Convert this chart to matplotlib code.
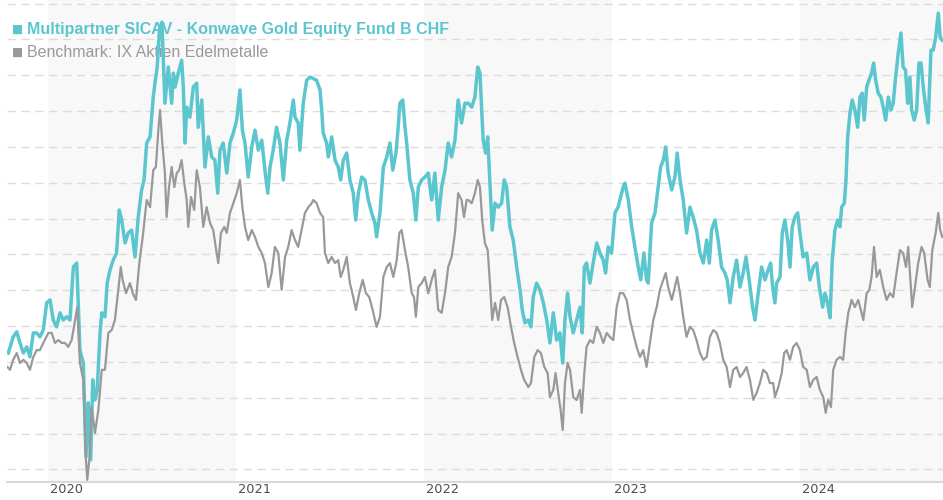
import matplotlib
matplotlib.use("Agg")
import matplotlib.pyplot as plt
import matplotlib.transforms as mtransforms
import numpy as np

# Performance in %, time in decimal years
fund_years = [
    2019.789, 2019.815, 2019.834, 2019.851, 2019.869, 2019.887, 2019.904, 2019.922, 2019.940, 2019.957,
    2019.975, 2019.993, 2020.011, 2020.028, 2020.046, 2020.064, 2020.081, 2020.099, 2020.117, 2020.135,
    2020.153, 2020.170, 2020.188, 2020.202, 2020.214, 2020.227, 2020.238, 2020.250, 2020.262, 2020.277,
    2020.286, 2020.303, 2020.315, 2020.330, 2020.347, 2020.365, 2020.379, 2020.392, 2020.410, 2020.427,
    2020.445, 2020.463, 2020.480, 2020.498, 2020.511, 2020.525, 2020.543, 2020.560, 2020.569, 2020.581,
    2020.593, 2020.606, 2020.622, 2020.640, 2020.658, 2020.667, 2020.676, 2020.693, 2020.711, 2020.720,
    2020.729, 2020.738, 2020.755, 2020.773, 2020.791, 2020.799, 2020.818, 2020.835, 2020.853, 2020.871,
    2020.888, 2020.903, 2020.915, 2020.932, 2020.951, 2020.968, 2020.986, 2021.004, 2021.021, 2021.034,
    2021.048, 2021.065, 2021.084, 2021.101, 2021.119, 2021.137, 2021.154, 2021.169, 2021.181, 2021.198,
    2021.216, 2021.234, 2021.252, 2021.270, 2021.287, 2021.305, 2021.314, 2021.331, 2021.340, 2021.358,
    2021.376, 2021.394, 2021.429, 2021.447, 2021.456, 2021.464, 2021.482, 2021.491, 2021.509, 2021.527,
    2021.544, 2021.557, 2021.571, 2021.589, 2021.606, 2021.624, 2021.637, 2021.651, 2021.669, 2021.686,
    2021.704, 2021.722, 2021.739, 2021.748, 2021.766, 2021.784, 2021.802, 2021.819, 2021.834, 2021.851,
    2021.863, 2021.872, 2021.887, 2021.899, 2021.908, 2021.925, 2021.943, 2021.957, 2021.970, 2021.988,
    2022.005, 2022.023, 2022.041, 2022.058, 2022.076, 2022.094, 2022.112, 2022.129, 2022.147, 2022.165,
    2022.182, 2022.200, 2022.218, 2022.236, 2022.254, 2022.271, 2022.286, 2022.298, 2022.307, 2022.315,
    2022.328, 2022.339, 2022.351, 2022.363, 2022.378, 2022.395, 2022.413, 2022.427, 2022.440, 2022.457,
    2022.475, 2022.493, 2022.511, 2022.523, 2022.537, 2022.555, 2022.569, 2022.581, 2022.599, 2022.617,
    2022.635, 2022.653, 2022.670, 2022.688, 2022.706, 2022.723, 2022.738, 2022.750, 2022.764, 2022.777,
    2022.794, 2022.812, 2022.830, 2022.842, 2022.853, 2022.865, 2022.883, 2022.900, 2022.919, 2022.936,
    2022.954, 2022.966, 2022.980, 2022.998, 2023.016, 2023.033, 2023.042, 2023.060, 2023.069, 2023.087,
    2023.105, 2023.122, 2023.140, 2023.153, 2023.170, 2023.184, 2023.193, 2023.211, 2023.229, 2023.246,
    2023.259, 2023.273, 2023.286, 2023.299, 2023.318, 2023.335, 2023.347, 2023.362, 2023.379, 2023.397,
    2023.415, 2023.432, 2023.450, 2023.468, 2023.486, 2023.504, 2023.518, 2023.530, 2023.548, 2023.565,
    2023.583, 2023.601, 2023.613, 2023.628, 2023.645, 2023.663, 2023.681, 2023.698, 2023.713, 2023.730,
    2023.748, 2023.761, 2023.778, 2023.796, 2023.814, 2023.831, 2023.844, 2023.855, 2023.867, 2023.876,
    2023.894, 2023.906, 2023.920, 2023.935, 2023.947, 2023.959, 2023.973, 2023.988, 2024.000, 2024.017,
    2024.036, 2024.053, 2024.071, 2024.089, 2024.103, 2024.121, 2024.133, 2024.147, 2024.160, 2024.172,
    2024.186, 2024.200, 2024.213, 2024.222, 2024.236, 2024.245, 2024.254, 2024.266, 2024.278, 2024.292,
    2024.307, 2024.319, 2024.331, 2024.342, 2024.355, 2024.367, 2024.381, 2024.392, 2024.403, 2024.416,
    2024.431, 2024.443, 2024.456, 2024.470, 2024.484, 2024.496, 2024.509, 2024.523, 2024.537, 2024.549,
    2024.562, 2024.573, 2024.585, 2024.594, 2024.608, 2024.621, 2024.633, 2024.644, 2024.656, 2024.669,
    2024.682, 2024.697, 2024.709, 2024.722, 2024.736, 2024.746, 2024.757,
]
fund_perf = [
    2.5, 7.0, 8.4, 5.3, 2.5, 4.2, 1.4, 8.1, 8.1, 7.0,
    8.9, 16.5, 17.3, 11.7, 9.8, 13.7, 11.7, 12.6, 11.7, 26.5,
    27.6, 3.3, -0.3, -26.5, -11.4, -27.3, -5.0, -10.6, -7.8, 8.1,
    13.7, 12.6, 22.0, 25.7, 28.4, 30.4, 42.4, 39.6, 33.2, 36.0,
    36.8, 29.3, 40.4, 48.0, 50.8, 61.1, 62.8, 73.9, 77.8, 82.3,
    92.6, 94.8, 72.2, 82.3, 72.2, 80.6, 76.7, 80.6, 84.2, 76.7,
    61.1, 71.1, 68.3, 76.7, 77.8, 65.5, 73.1, 54.4, 62.8, 57.2,
    56.3, 47.1, 59.1, 61.1, 52.7, 61.1, 63.9, 67.5, 75.9, 64.7,
    61.1, 51.6, 60.0, 64.7, 59.1, 61.9, 53.5, 47.1, 54.4, 59.1,
    65.5, 61.1, 50.8, 61.9, 66.7, 73.1, 68.3, 66.7, 59.1, 72.2,
    78.6, 79.5, 78.6, 75.9, 70.3, 63.9, 61.1, 57.2, 62.8, 56.3,
    54.4, 50.8, 56.3, 58.3, 50.8, 47.1, 39.6, 47.1, 51.6, 50.8,
    45.2, 41.6, 38.8, 34.9, 41.6, 54.4, 57.2, 61.1, 53.5, 58.3,
    65.5, 72.2, 73.1, 65.5, 61.1, 50.8, 47.1, 39.6, 48.8, 50.8,
    51.6, 52.7, 45.2, 52.7, 39.6, 48.8, 53.5, 61.1, 57.2, 61.9,
    73.1, 66.7, 72.2, 72.2, 71.1, 73.9, 82.3, 80.6, 70.3, 61.9,
    58.3, 62.8, 49.9, 36.8, 44.3, 43.2, 44.3, 50.8, 48.8, 37.7,
    34.0, 26.5, 20.1, 14.5, 10.9, 11.7, 9.8, 18.1, 22.0, 20.1,
    16.5, 11.7, 5.3, 13.7, 6.1, 8.1, -0.3, 11.7, 19.2, 12.6,
    8.1, 11.7, 15.3, 8.1, 26.5, 27.6, 22.0, 27.6, 33.2, 30.4,
    28.4, 24.8, 32.1, 30.4, 41.6, 43.2, 45.2, 48.8, 49.9, 45.2,
    37.7, 32.1, 26.5, 22.9, 30.4, 22.9, 22.0, 38.8, 41.6, 48.8,
    54.4, 56.3, 60.0, 52.7, 48.0, 51.6, 58.3, 50.8, 45.2, 36.0,
    43.2, 40.4, 36.8, 30.4, 27.6, 34.0, 27.6, 36.8, 39.6, 34.0,
    26.5, 24.8, 22.9, 16.5, 23.7, 28.4, 20.9, 24.8, 29.3, 22.9,
    15.3, 11.7, 19.2, 26.5, 22.9, 25.7, 27.6, 20.9, 16.5, 22.0,
    23.7, 36.0, 39.6, 34.0, 26.5, 37.7, 40.4, 41.6, 36.0, 29.3,
    30.4, 22.9, 26.5, 27.6, 20.9, 15.3, 19.2, 16.5, 12.3, 28.4,
    36.8, 39.6, 37.7, 43.2, 44.3, 50.8, 62.8, 69.4, 73.1, 70.3,
    65.5, 73.9, 75.0, 67.5, 76.7, 78.6, 80.6, 83.4, 78.6, 75.0,
    73.9, 71.1, 67.5, 73.9, 70.3, 72.2, 79.5, 86.2, 91.8, 82.3,
    81.4, 72.2, 79.5, 70.3, 67.5, 70.3, 83.4, 83.4, 76.7, 71.1,
    66.7, 87.0, 87.0, 90.6, 97.3, 90.6, 89.8,
]

bench_years = [
    2019.784, 2019.798, 2019.815, 2019.834, 2019.851, 2019.869, 2019.887, 2019.904, 2019.922, 2019.940,
    2019.957, 2019.975, 2020.002, 2020.020, 2020.037, 2020.055, 2020.073, 2020.090, 2020.108, 2020.126,
    2020.144, 2020.156, 2020.170, 2020.188, 2020.202, 2020.209, 2020.220, 2020.232, 2020.250, 2020.268,
    2020.286, 2020.303, 2020.321, 2020.339, 2020.356, 2020.374, 2020.387, 2020.397, 2020.415, 2020.436,
    2020.451, 2020.468, 2020.486, 2020.504, 2020.525, 2020.543, 2020.560, 2020.574, 2020.587, 2020.596,
    2020.608, 2020.622, 2020.631, 2020.644, 2020.658, 2020.672, 2020.685, 2020.697, 2020.711, 2020.725,
    2020.738, 2020.746, 2020.761, 2020.778, 2020.791, 2020.808, 2020.826, 2020.844, 2020.862, 2020.879,
    2020.897, 2020.906, 2020.920, 2020.938, 2020.951, 2020.968, 2020.986, 2021.004, 2021.021, 2021.034,
    2021.048, 2021.065, 2021.084, 2021.101, 2021.119, 2021.137, 2021.154, 2021.172, 2021.190, 2021.207,
    2021.225, 2021.243, 2021.261, 2021.278, 2021.296, 2021.314, 2021.331, 2021.349, 2021.367, 2021.385,
    2021.403, 2021.411, 2021.429, 2021.447, 2021.464, 2021.473, 2021.491, 2021.509, 2021.527, 2021.544,
    2021.557, 2021.571, 2021.589, 2021.606, 2021.624, 2021.638, 2021.656, 2021.674, 2021.691, 2021.709,
    2021.727, 2021.748, 2021.766, 2021.784, 2021.802, 2021.819, 2021.837, 2021.855, 2021.869, 2021.881,
    2021.899, 2021.916, 2021.935, 2021.947, 2021.957, 2021.970, 2021.988, 2022.005, 2022.023, 2022.041,
    2022.058, 2022.076, 2022.094, 2022.112, 2022.129, 2022.147, 2022.165, 2022.182, 2022.200, 2022.213,
    2022.227, 2022.236, 2022.254, 2022.271, 2022.286, 2022.298, 2022.310, 2022.324, 2022.339, 2022.351,
    2022.363, 2022.378, 2022.395, 2022.410, 2022.427, 2022.445, 2022.463, 2022.480, 2022.498, 2022.516,
    2022.533, 2022.555, 2022.569, 2022.587, 2022.605, 2022.622, 2022.640, 2022.658, 2022.670, 2022.688,
    2022.700, 2022.714, 2022.727, 2022.738, 2022.750, 2022.764, 2022.777, 2022.794, 2022.812, 2022.830,
    2022.839, 2022.853, 2022.865, 2022.883, 2022.900, 2022.919, 2022.936, 2022.954, 2022.972, 2022.989,
    2023.007, 2023.025, 2023.042, 2023.060, 2023.078, 2023.096, 2023.113, 2023.131, 2023.149, 2023.166,
    2023.184, 2023.202, 2023.220, 2023.238, 2023.255, 2023.273, 2023.286, 2023.299, 2023.318, 2023.331,
    2023.347, 2023.362, 2023.379, 2023.397, 2023.415, 2023.432, 2023.450, 2023.468, 2023.486, 2023.504,
    2023.521, 2023.539, 2023.557, 2023.574, 2023.592, 2023.610, 2023.628, 2023.645, 2023.663, 2023.681,
    2023.698, 2023.716, 2023.734, 2023.752, 2023.770, 2023.787, 2023.805, 2023.823, 2023.840, 2023.858,
    2023.867, 2023.885, 2023.903, 2023.916, 2023.929, 2023.947, 2023.964, 2023.982, 2024.000, 2024.017,
    2024.036, 2024.053, 2024.071, 2024.089, 2024.106, 2024.124, 2024.137, 2024.150, 2024.165, 2024.177,
    2024.195, 2024.213, 2024.230, 2024.243, 2024.257, 2024.275, 2024.292, 2024.310, 2024.324, 2024.337,
    2024.355, 2024.369, 2024.381, 2024.394, 2024.408, 2024.425, 2024.443, 2024.461, 2024.479, 2024.496,
    2024.514, 2024.532, 2024.549, 2024.564, 2024.576, 2024.585, 2024.597, 2024.612, 2024.629, 2024.647,
    2024.661, 2024.679, 2024.691, 2024.704, 2024.722, 2024.736, 2024.746, 2024.757,
]
bench_perf = [
    -1.4, -2.2, 0.6, 2.5, -0.3, 0.6, -0.3, -2.2, 1.4, 3.3,
    3.3, 5.3, 8.1, 8.1, 5.3, 6.1, 5.3, 5.3, 4.2, 6.1,
    11.7, 15.3, -0.3, -5.0, -27.3, -32.9, -27.3, -12.6, -19.8, -13.4,
    -2.2, -2.2, 8.1, 8.9, 11.7, 20.1, 26.5, 22.9, 19.2, 22.0,
    19.2, 17.3, 27.6, 34.9, 45.2, 43.2, 53.5, 54.4, 64.7, 70.3,
    61.1, 52.7, 40.4, 48.8, 54.4, 48.8, 52.7, 53.5, 56.3, 49.9,
    45.2, 37.7, 46.0, 42.4, 53.5, 48.8, 37.7, 43.2, 38.8, 36.8,
    30.4, 27.6, 36.0, 37.7, 36.0, 41.6, 44.3, 47.1, 50.8, 43.2,
    37.7, 34.0, 36.8, 34.9, 32.1, 30.4, 27.6, 20.9, 24.8, 32.1,
    30.4, 20.1, 29.3, 32.1, 36.8, 34.0, 32.1, 36.8, 41.6, 43.2,
    44.3, 45.2, 44.3, 41.6, 40.4, 30.4, 27.6, 29.3, 27.6, 28.4,
    23.7, 25.7, 29.3, 22.0, 18.1, 14.5, 19.2, 22.9, 19.2, 18.1,
    14.5, 9.8, 12.6, 23.7, 26.5, 27.6, 23.7, 28.4, 36.0, 36.8,
    31.2, 26.5, 19.2, 18.1, 12.6, 20.9, 22.0, 23.7, 19.2, 22.9,
    25.7, 14.5, 13.7, 19.2, 26.5, 29.3, 36.0, 47.1, 45.2, 40.4,
    45.2, 45.2, 44.3, 47.1, 50.8, 48.8, 39.6, 33.2, 31.2, 22.0,
    11.7, 16.5, 11.7, 17.3, 18.1, 15.3, 9.8, 5.3, 1.4, -2.2,
    -5.0, -7.0, -5.9, 1.4, 3.3, 2.5, -1.4, -3.1, -9.8, -7.8,
    -3.1, -8.6, -13.4, -19.0, -5.9, -0.3, -2.2, -9.8, -10.6, -7.8,
    -14.2, -3.1, 4.2, 6.1, 5.3, 9.8, 8.1, 5.3, 8.1, 7.0,
    6.1, 15.3, 19.2, 19.2, 17.3, 11.7, 8.1, 4.2, 1.4, 3.3,
    -1.4, 5.3, 11.7, 15.3, 20.1, 22.9, 24.8, 20.9, 17.3, 20.1,
    23.7, 19.2, 12.6, 7.0, 9.8, 8.9, 6.1, 2.5, 0.6, 1.4,
    7.0, 8.9, 8.1, 5.3, 0.6, -1.4, -7.0, -2.2, -1.4, -4.2,
    -3.1, -1.4, -5.0, -10.6, -8.6, -5.9, -2.2, -3.1, -5.9, -5.9,
    -9.8, -7.0, -3.1, 2.5, 3.3, 0.6, 4.2, 5.3, 3.3, -1.4,
    -2.2, -7.0, -5.0, -4.2, -7.8, -9.8, -14.2, -10.6, -12.6, -2.2,
    0.6, 1.4, 0.6, 8.1, 13.7, 17.3, 15.3, 17.3, 14.5, 11.7,
    19.2, 20.1, 23.7, 32.1, 23.7, 25.7, 20.9, 17.3, 19.2, 18.1,
    24.8, 31.2, 30.4, 26.5, 32.1, 24.8, 15.3, 20.9, 27.6, 32.1,
    30.4, 22.9, 20.9, 31.2, 36.0, 41.6, 36.8, 34.9,
]

fund_name = "Multipartner SICAV - Konwave Gold Equity Fund B CHF"
bench_name = "Benchmark: IX Aktien Edelmetalle"
years = [2020, 2021, 2022, 2023, 2024]
grid_levels = np.arange(-30, 101, 10)

teal = "#5bc6ce"
grey = "#999999"

fig = plt.figure(figsize=(9.43, 5.0), dpi=100)
ax = fig.add_axes([7 / 943, 18 / 500, 936 / 943, 482 / 500])

# alternating year shading
for y0 in years[::2]:
    ax.axvspan(y0, y0 + 1, color="#f8f8f8", lw=0, zorder=0)

ax.plot(fund_years, fund_perf, color=teal, lw=2.5, zorder=3,
        solid_joinstyle="round")
ax.plot(bench_years, bench_perf, color=grey, lw=1.6, zorder=4,
        solid_joinstyle="round")

ax.set_xlim(2019.782, 2024.761)
ax.set_ylim(-33.5, 101.0)

ax.set_yticks(grid_levels)
ax.grid(axis="y", color="#dcdcdc", linestyle=(0, (6, 4)), linewidth=1)
ax.set_axisbelow(True)
ax.tick_params(axis="y", left=False, labelleft=False)

ax.set_xticks(years)
ax.set_xticklabels([str(y) for y in years], ha="left")
ax.tick_params(axis="x", length=0, pad=1, labelsize=9.3, labelcolor="#4d4d4d")
offset = mtransforms.ScaledTranslation(2 / 100, 0, fig.dpi_scale_trans)
for lbl in ax.get_xticklabels():
    lbl.set_transform(lbl.get_transform() + offset)

for side in ["top", "left", "right"]:
    ax.spines[side].set_visible(False)
ax.spines["bottom"].set_color("#d9d9d9")
ax.spines["bottom"].set_linewidth(1.5)

# legend drawn as text below the lines
ax.text(12 / 943, 1 - 29.5 / 500, "\u25a0", transform=fig.transFigure,
        color=teal, fontsize=8.5, va="center", ha="left", zorder=1,
        family="DejaVu Sans")
ax.text(27 / 943, 1 - 29.5 / 500, fund_name, transform=fig.transFigure,
        color=teal, fontsize=11.5, fontweight="bold", va="center", ha="left",
        zorder=1, family="Liberation Sans")
ax.text(12 / 943, 1 - 52.5 / 500, "\u25a0", transform=fig.transFigure,
        color=grey, fontsize=8.5, va="center", ha="left", zorder=1,
        family="DejaVu Sans")
ax.text(27 / 943, 1 - 52.5 / 500, bench_name, transform=fig.transFigure,
        color=grey, fontsize=11.5, va="center", ha="left", zorder=1,
        family="Liberation Sans")

fig.savefig("out.png", dpi=100)
